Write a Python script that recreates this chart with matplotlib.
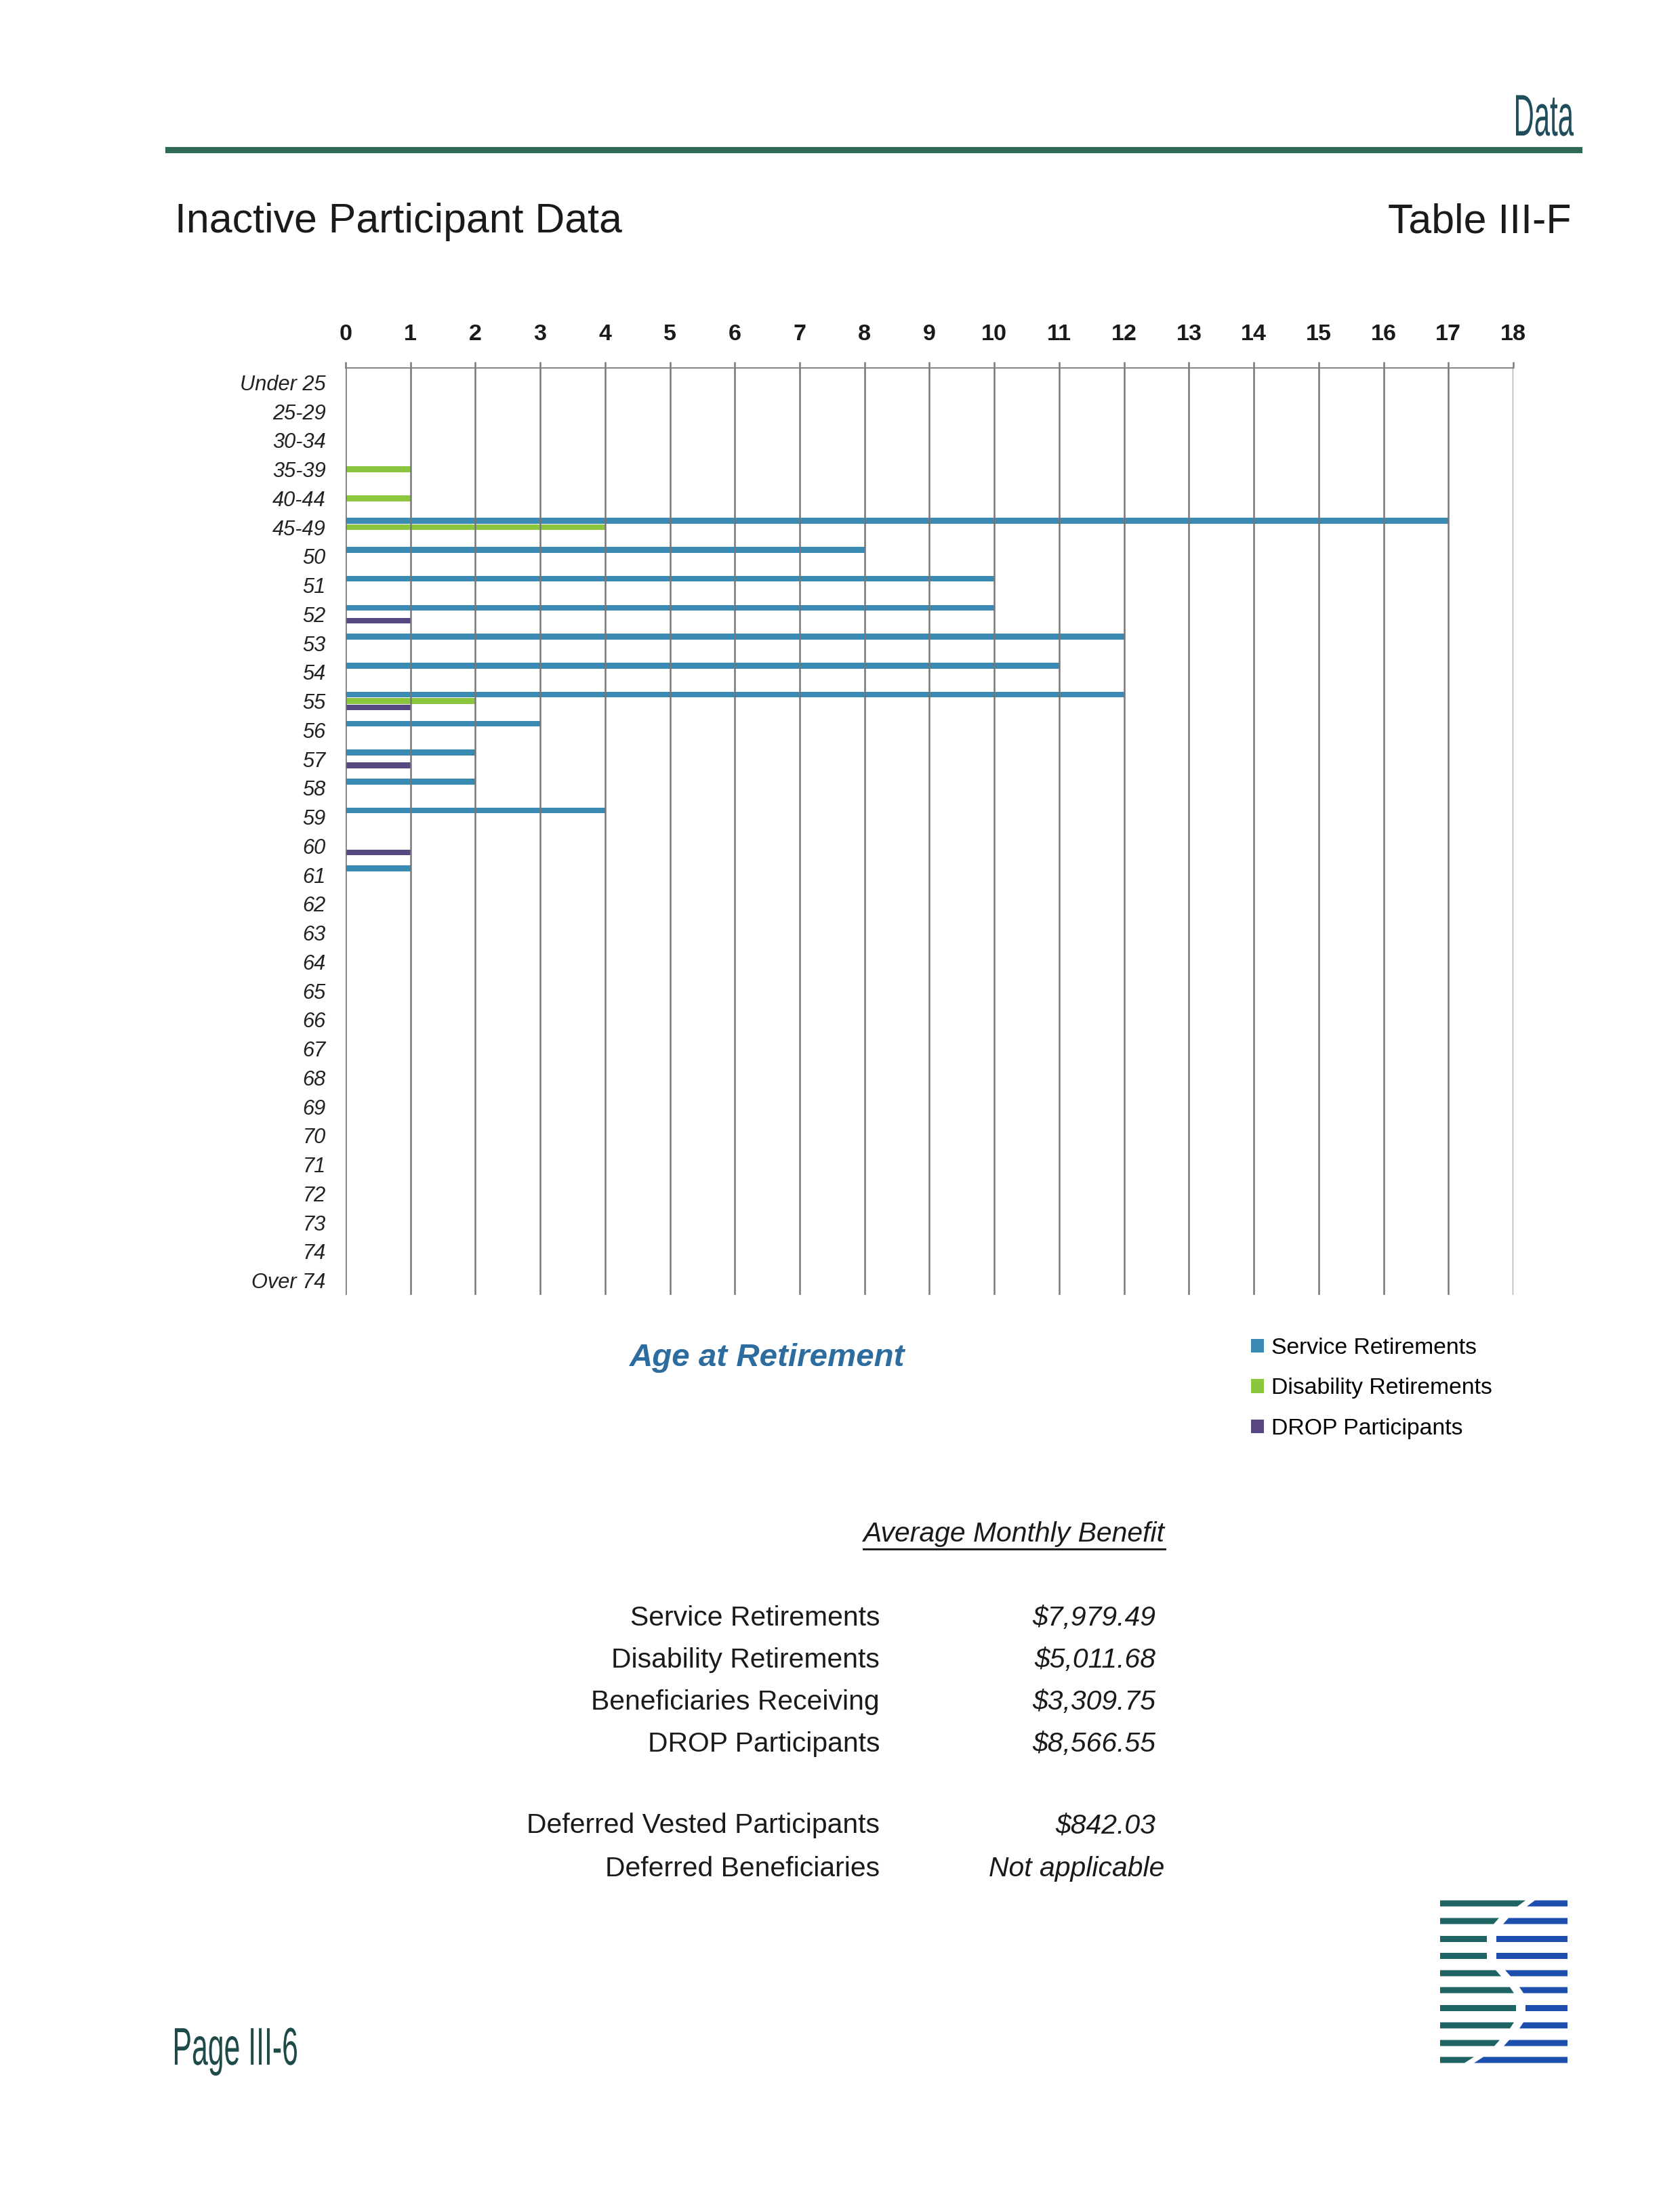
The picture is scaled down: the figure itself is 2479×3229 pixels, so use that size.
import matplotlib
matplotlib.use("Agg")
import matplotlib.pyplot as plt
import numpy as np
from matplotlib.textpath import TextPath
from matplotlib.patches import PathPatch, Polygon
from matplotlib.font_manager import FontProperties
from matplotlib.transforms import Affine2D
from matplotlib.lines import Line2D

# ---- data ----
age_groups = ["Under 25", "25-29", "30-34", "35-39", "40-44", "45-49",
              "50", "51", "52", "53", "54", "55", "56", "57", "58", "59",
              "60", "61", "62", "63", "64", "65", "66", "67", "68", "69",
              "70", "71", "72", "73", "74", "Over 74"]
service = [0, 0, 0, 0, 0, 17, 8, 10, 10, 12, 11, 12, 3, 2, 2, 4,
           0, 1, 0, 0, 0, 0, 0, 0, 0, 0, 0, 0, 0, 0, 0, 0]
disability = [0, 0, 0, 1, 1, 4, 0, 0, 0, 0, 0, 2, 0, 0, 0, 0,
              0, 0, 0, 0, 0, 0, 0, 0, 0, 0, 0, 0, 0, 0, 0, 0]
drop = [0, 0, 0, 0, 0, 0, 0, 0, 1, 0, 0, 1, 0, 1, 0, 0,
        1, 0, 0, 0, 0, 0, 0, 0, 0, 0, 0, 0, 0, 0, 0, 0]
x_ticks = list(range(0, 19))

benefit_labels = ["Service Retirements", "Disability Retirements",
                  "Beneficiaries Receiving", "DROP Participants",
                  "Deferred Vested Participants", "Deferred Beneficiaries"]
benefit_values = ["$7,979.49", "$5,011.68", "$3,309.75", "$8,566.55",
                  "$842.03", "Not applicable"]

W, H = 2479, 3229
DPI = 300
plt.rcParams['font.family'] = ['Liberation Sans', 'DejaVu Sans']

fig = plt.figure(figsize=(W / DPI, H / DPI), dpi=DPI)
fig.patch.set_facecolor('white')


def fx(px):
    return px / W


def fy(py):
    return 1 - py / H


# ---- chart ----
ax = fig.add_axes([fx(510), fy(1911), fx(2233) - fx(510), fy(543) - fy(1911)])
y = np.arange(len(age_groups))
bh = 0.2
off = 0.22
b1 = ax.barh(y - off, service, height=bh, color='#3a8ab3', label='Service Retirements', zorder=2)
b2 = ax.barh(y, disability, height=bh, color='#8cc63f', label='Disability Retirements', zorder=2)
b3 = ax.barh(y + off, drop, height=bh, color='#574780', label='DROP Participants', zorder=2)

ax.set_xlim(0, 18)
ax.set_ylim(len(age_groups) - 0.5, -0.5)
for xv in x_ticks:
    ax.axvline(xv, color='#777777', lw=0.6, zorder=3)

ax.xaxis.tick_top()
ax.set_xticks(x_ticks)
ax.set_xticklabels([str(v) for v in x_ticks], fontsize=8.2, fontweight='bold',
                   family=['Liberation Sans Narrow', 'Liberation Sans'], color='#1a1a1a')
ax.tick_params(axis='x', length=2.2, width=0.6, color='#777777', pad=6)
ax.set_yticks(y)
ax.set_yticklabels(age_groups, fontsize=7.4, style='italic', color='#222222')
ax.tick_params(axis='y', length=0, pad=7)
for s in ['left', 'right', 'bottom']:
    ax.spines[s].set_visible(False)
ax.spines['top'].set_color('#888888')
ax.spines['top'].set_linewidth(0.5)

# axis caption and legend
fig.text(fx(1132), fy(2004), "Age at Retirement", fontsize=11.4, fontweight='bold',
         style='italic', color='#2d6c9f', ha='center', va='center')
fig.legend(handles=[b1, b2, b3], loc='upper left', bbox_to_anchor=(fx(1846), fy(1974)),
           frameon=False, fontsize=8.1, handlelength=0.55, handleheight=0.55,
           handletextpad=0.35, labelspacing=0.84, borderpad=0, borderaxespad=0)

# ---- header ----
fig.text(fx(258), fy(343), "Inactive Participant Data", fontsize=14.6, ha='left',
         va='baseline', color='#1a1a1a')
fig.text(fx(2318), fy(343), "Table III-F", fontsize=14.6, ha='right',
         va='baseline', color='#1a1a1a')
fig.add_artist(Line2D([fx(248), fx(2330)], [fy(221), fy(221)], lw=2.2,
                      color='#2f6a55', transform=fig.transFigure))


def condensed(text, x_px, base_px, cap_px, width_px, color, align='left'):
    fp = FontProperties(family='Liberation Sans')
    tp = TextPath((0, 0), text, size=100, prop=fp)
    ext = tp.get_extents()
    sy = cap_px / 71.6
    sx = width_px / ext.width
    x0 = x_px - ext.x0 * sx if align == 'left' else x_px - ext.x1 * sx
    tr = Affine2D().scale(sx, sy).translate(x0, H - base_px)
    fig.add_artist(PathPatch(tp, transform=tr, facecolor=color, lw=0))


condensed("Data", 2322, 200, 62, 85, '#1f4d5c', align='right')
condensed("Page III-6", 258, 3047, 56, 180, '#1f4a4a')

# ---- benefit table ----
avg = fig.text(fx(1496), fy(2264), "Average Monthly Benefit", fontsize=9.8,
               style='italic', ha='center', va='center', color='#1a1a1a')
row_y = [2388, 2450, 2512, 2574, 2694, 2758]
for lab, val, ry in zip(benefit_labels, benefit_values, row_y):
    fig.text(fx(1298), fy(ry), lab, fontsize=9.8, ha='right', va='center', color='#1a1a1a')
    xr = 1718 if val == "Not applicable" else 1705
    fig.text(fx(xr), fy(ry), val, fontsize=9.8, style='italic', ha='right',
             va='center', color='#1a1a1a')

fig.canvas.draw()
bb = avg.get_window_extent()
fig.add_artist(Line2D([bb.x0 / W, bb.x1 / W], [fy(2286), fy(2286)], lw=0.7,
                      color='#1a1a1a', transform=fig.transFigure))

# ---- logo ----
stripe_y = [2809, 2835, 2861, 2886, 2912, 2937, 2963, 2989, 3015, 3040]
gap_mid = [2252, 2215, 2201, 2201, 2218, 2238, 2244, 2238, 2216, 2175]
slant = [6, 4, 0, 0, -4, -3, 0, 3, 4, 7]
half_t = 4.5
for sy_, gm, sl in zip(stripe_y, gap_mid, slant):
    top, bot = sy_ - half_t, sy_ + half_t
    left = [(2125, bot), (2125, top), (gm - 7 + sl, top), (gm - 7 - sl, bot)]
    right = [(gm + 7 - sl, bot), (gm + 7 + sl, top), (2313, top), (2313, bot)]
    fig.add_artist(Polygon([(fx(a), fy(b)) for a, b in left], closed=True,
                           transform=fig.transFigure, color='#1f6464', lw=0))
    fig.add_artist(Polygon([(fx(a), fy(b)) for a, b in right], closed=True,
                           transform=fig.transFigure, color='#1f4fae', lw=0))

fig.savefig("out.png", dpi=DPI, facecolor='white')
